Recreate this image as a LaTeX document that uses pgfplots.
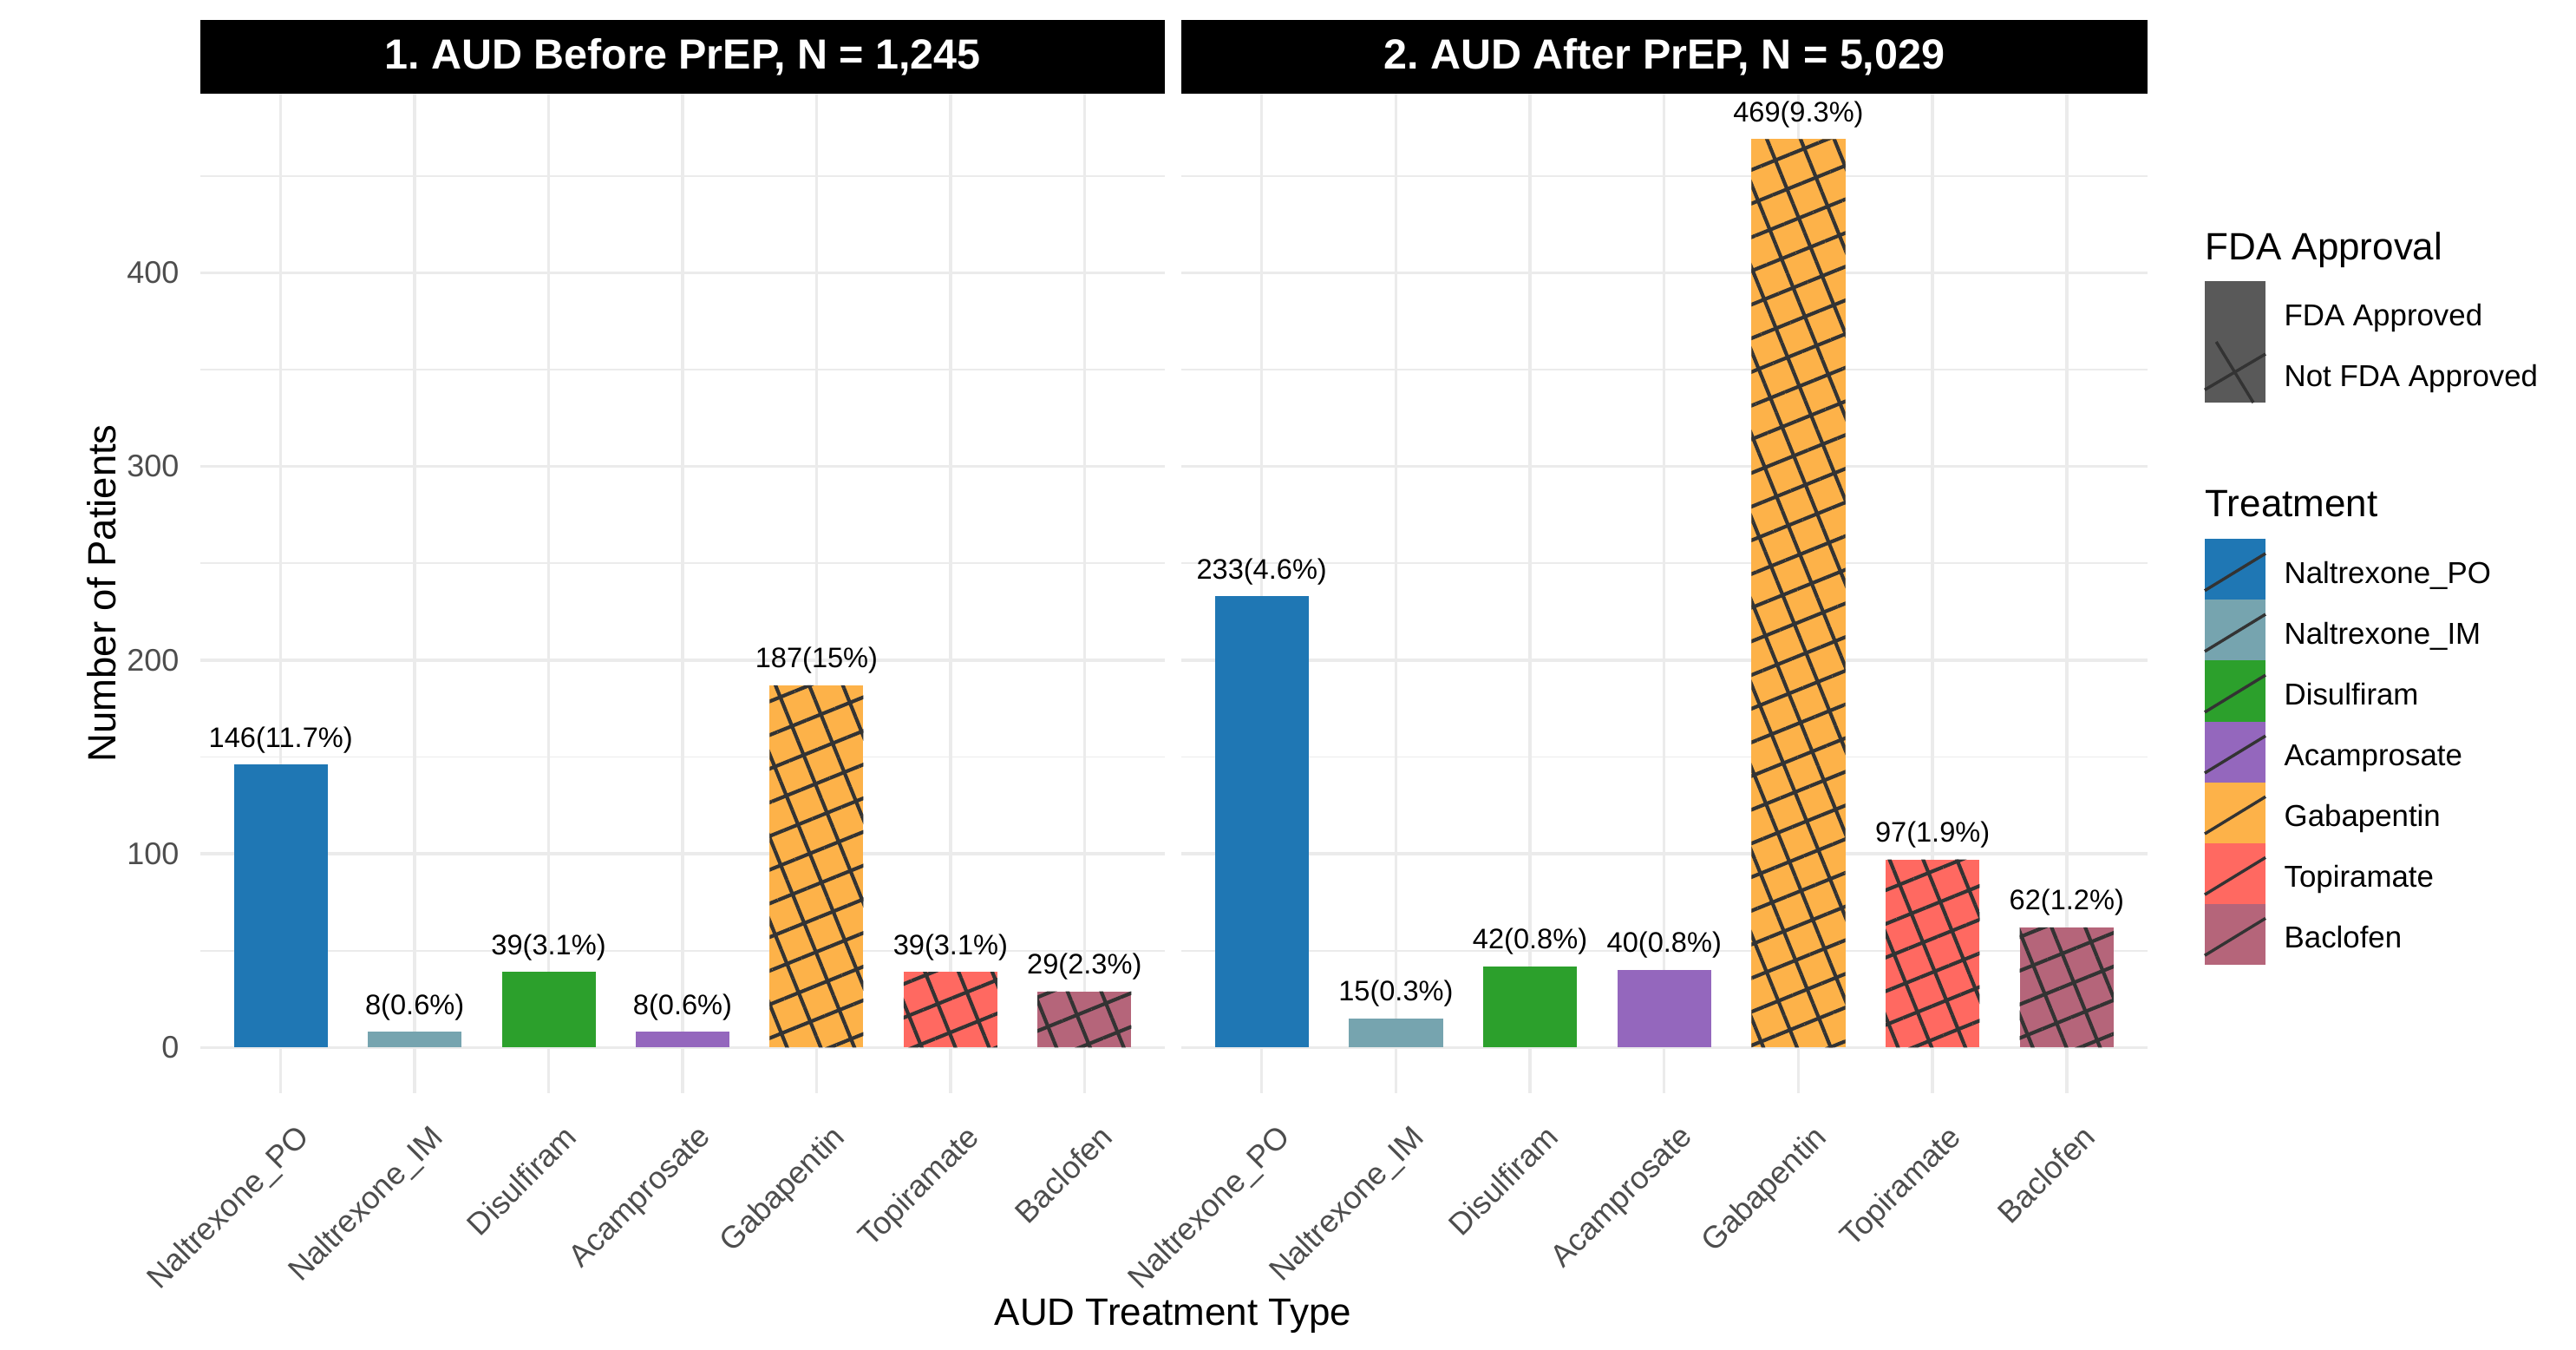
\documentclass[border=0pt]{standalone}
\usepackage{pgfplots}
\pgfplotsset{compat=1.18}
\usepackage{fontspec}
\setmainfont{Liberation Sans}
\usetikzlibrary{patterns.meta}
\frenchspacing

\definecolor{cNPO}{HTML}{1F77B4}
\definecolor{cNIM}{HTML}{76A4AF}
\definecolor{cDis}{HTML}{2CA02C}
\definecolor{cAca}{HTML}{9467BD}
\definecolor{cGab}{HTML}{FDB249}
\definecolor{cTop}{HTML}{FF6961}
\definecolor{cBac}{HTML}{B5657A}
\definecolor{fdac}{HTML}{595959}
\definecolor{hatchc}{HTML}{333333}
\definecolor{gridc}{HTML}{EBEBEB}
\definecolor{tickc}{HTML}{4D4D4D}

\pgfplotsset{
  panel/.style={
    scale only axis, width=293.5pt, height=304pt,
    xmin=-0.6, xmax=6.6, ymin=-23.45, ymax=492.45,
    axis line style={draw=none}, tick style={draw=none},
    xtick={0,...,6},
    xticklabels={Naltrexone\_PO,Naltrexone\_IM,Disulfiram,Acamprosate,Gabapentin,Topiramate,Baclofen},
    ytick={0,100,...,400}, minor ytick={50,150,...,450},
    grid=both,
    major grid style={color=gridc, line width=0.9pt},
    minor grid style={color=gridc, line width=0.45pt},
    tick label style={font=\fontsize{9.5}{11}\selectfont, text=tickc},
    xticklabel style={rotate=45, anchor=north east, yshift=-6pt},
    yticklabel style={xshift=-3pt},
    /pgf/number format/assume math mode=true,
    clip=false,
  },
  bar/.style={ybar, bar width=0.7, bar shift=0pt, draw=none, fill=#1,
    nodes near coords, point meta=explicit symbolic,
    every node near coord/.append style={font=\fontsize{8.6}{10}\selectfont, text=black}},
  hatch/.style={ybar, bar width=0.7, bar shift=0pt, draw=none,
    pattern={Lines[angle=#1, distance=9.5pt, line width=1.1pt]}, pattern color=hatchc},
}

\begin{document}
\begin{tikzpicture}
\path[use as bounding box] (0,0) rectangle (784pt,410.5pt);

% panel 1: before PrEP
\begin{axis}[panel, name=ax1, at={(61pt,78pt)}, anchor=south west]
\addplot[bar=cNPO] coordinates {(0,146) [146(11.7\%)]};
\addplot[bar=cNIM] coordinates {(1,8) [8(0.6\%)]};
\addplot[bar=cDis] coordinates {(2,39) [39(3.1\%)]};
\addplot[bar=cAca] coordinates {(3,8) [8(0.6\%)]};
\addplot[bar=cGab] coordinates {(4,187) [187(15\%)]};
\addplot[bar=cTop] coordinates {(5,39) [39(3.1\%)]};
\addplot[bar=cBac] coordinates {(6,29) [29(2.3\%)]};
\addplot[hatch=22] coordinates {(4,187) (5,39) (6,29)};
\addplot[hatch=112] coordinates {(4,187) (5,39) (6,29)};
\end{axis}

% panel 2: after PrEP
\begin{axis}[panel, name=ax2, at={(359.5pt,78pt)}, anchor=south west, width=294pt, yticklabels={}]
\addplot[bar=cNPO] coordinates {(0,233) [233(4.6\%)]};
\addplot[bar=cNIM] coordinates {(1,15) [15(0.3\%)]};
\addplot[bar=cDis] coordinates {(2,42) [42(0.8\%)]};
\addplot[bar=cAca] coordinates {(3,40) [40(0.8\%)]};
\addplot[bar=cGab] coordinates {(4,469) [469(9.3\%)]};
\addplot[bar=cTop] coordinates {(5,97) [97(1.9\%)]};
\addplot[bar=cBac] coordinates {(6,62) [62(1.2\%)]};
\addplot[hatch=22] coordinates {(4,469) (5,97) (6,62)};
\addplot[hatch=112] coordinates {(4,469) (5,97) (6,62)};
\end{axis}

% facet strips
\fill[black] (ax1.north west) rectangle ([yshift=22.5pt]ax1.north east);
\fill[black] (ax2.north west) rectangle ([yshift=22.5pt]ax2.north east);
\node[text=white, font=\bfseries\fontsize{12.8}{15}\selectfont] at ([yshift=11.25pt]ax1.north) {1. AUD Before PrEP, N = 1,245};
\node[text=white, font=\bfseries\fontsize{12.8}{15}\selectfont] at ([yshift=11.25pt]ax2.north) {2. AUD After PrEP, N = 5,029};

% axis titles
\node[rotate=90, font=\fontsize{12}{14}\selectfont] at (31pt,230pt) {Number of Patients};
\node[font=\fontsize{11.6}{14}\selectfont] at (357pt,10pt) {AUD Treatment Type};

% legend
\node[anchor=base west, inner sep=0pt, font=\fontsize{11.6}{14}\selectfont] at (671pt,331.5pt) {FDA Approval};
\fill[fdac] (671pt,288pt) rectangle (689.5pt,325pt);
\draw[hatchc, line width=0.9pt] (671pt,291.9pt) -- (689.5pt,302.8pt);
\draw[hatchc, line width=0.9pt] (674.5pt,306.5pt) -- (685.8pt,288pt);
\node[anchor=base west, inner sep=0pt, font=\fontsize{9.2}{11}\selectfont] at (695pt,311.5pt) {FDA Approved};
\node[anchor=base west, inner sep=0pt, font=\fontsize{9.2}{11}\selectfont] at (695pt,293pt) {Not FDA Approved};

\node[anchor=base west, inner sep=0pt, font=\fontsize{11.6}{14}\selectfont] at (671pt,253.3pt) {Treatment};
\foreach \c/\n [count=\i from 0] in {cNPO/Naltrexone\_PO, cNIM/Naltrexone\_IM, cDis/Disulfiram, cAca/Acamprosate, cGab/Gabapentin, cTop/Topiramate, cBac/Baclofen} {
  \pgfmathsetmacro{\yb}{228-18.5*\i}
  \fill[\c] (671pt,\yb pt) rectangle (689.5pt,\yb pt+18.5pt);
  \draw[hatchc, line width=0.9pt] (671pt,\yb pt+2.8pt) -- (689.5pt,\yb pt+14.1pt);
  \node[anchor=base west, inner sep=0pt, font=\fontsize{9.2}{11}\selectfont] at (695pt,\yb pt+5.1pt) {\n};
}
\end{tikzpicture}
\end{document}
